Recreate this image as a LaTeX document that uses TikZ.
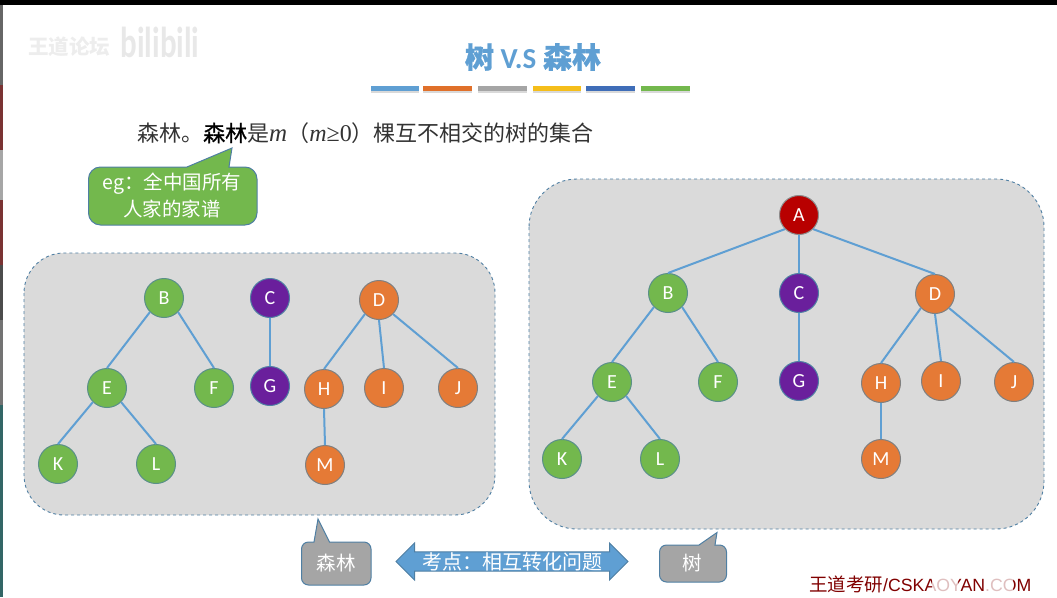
\documentclass[tikz,border=0pt]{standalone}
\usepackage{fontspec}
\setmainfont{Carlito}
\newfontfamily\cjk{Noto Sans CJK SC}
\newfontfamily\cjkheavy[FakeBold=1]{Noto Sans CJK SC}
\newfontfamily\timesfont{Liberation Serif}
\newfontfamily\footfont{Liberation Sans}
\usetikzlibrary{positioning, shapes.arrows, shadows}
\definecolor{linkblue}{HTML}{5F9FD3}
\definecolor{rimblue}{HTML}{4F7FA3}
\definecolor{panelgray}{HTML}{DADADA}
\definecolor{treegreen}{HTML}{73B84D}
\definecolor{treepurple}{HTML}{6A1F9C}
\definecolor{treeorange}{HTML}{E57A36}
\definecolor{treered}{HTML}{B80000}
\definecolor{tagsgray}{HTML}{A5A5A5}
\definecolor{barorange}{HTML}{E0702A}
\definecolor{baryellow}{HTML}{F5BE1A}
\definecolor{barblue}{HTML}{3F6DB8}

\begin{document}
\begin{tikzpicture}[
  x=1pt, y=-1pt,
  treenode/.style={circle, line width=1pt, minimum size=39pt, inner sep=0pt,
                   text=white, font=\fontsize{20}{22}\selectfont},
  greennode/.style={treenode, draw=rimblue!70!treegreen, fill=treegreen},
  purplenode/.style={treenode, draw=rimblue, fill=treepurple},
  orangenode/.style={treenode, draw=black!50, fill=treeorange},
  rednode/.style={treenode, draw=black!45, fill=treered},
  link/.style={draw=linkblue, line width=2pt},
  panel/.style={draw=rimblue, dashed, line width=0.9pt, fill=panelgray},
  bar/.style={minimum height=5.5pt, inner sep=0pt, anchor=north west,
              drop shadow={shadow xshift=0pt, shadow yshift=-1.5pt, opacity=0.3}},
  tagshape/.style={draw=rimblue, line width=1pt},
  tagtext/.style={text=white, align=center, inner sep=0pt, font=\cjk\fontsize{19.5}{27}\selectfont},
]
\useasboundingbox (0,0) rectangle (1057,597);
\fill[black] (0,0) rectangle (1057,5);

% --- strip on the left edge ---
\fill[black!60] (0,5) rectangle (2.5,85);
\fill[red!35!black!80] (0,85) rectangle (2.5,150);
\fill[black!35] (0,150) rectangle (2.5,200);
\fill[red!35!black!80] (0,200) rectangle (2.5,265);
\fill[black!70] (0,265) rectangle (2.5,320);
\fill[black!55] (0,320) rectangle (2.5,405);
\fill[teal!50!black!80] (0,405) rectangle (2.5,597);

% --- faint watermark ---
\node[text=black!7, font=\cjk\bfseries\fontsize{20.5}{22}\selectfont] (wmark) at (69,47) {王道论坛};
\node[text=black!9, yscale=1.4, font=\bfseries\fontsize{31}{32}\selectfont] (wlogo) at (160,42) {bilibili};

% --- heading ---
\node[text=linkblue, font=\bfseries\fontsize{29}{32}\selectfont] (title) at (533,57)
  {{\cjkheavy 树} V.S {\cjkheavy 森林}};
\node[bar, fill=linkblue, minimum width=48pt]   (bar1) at (371,85.5) {};
\node[bar, fill=barorange, minimum width=49pt]  (bar2) at (423,85.5) {};
\node[bar, fill=tagsgray, minimum width=49pt]   (bar3) at (478,85.5) {};
\node[bar, fill=baryellow, minimum width=48pt]  (bar4) at (533,85.5) {};
\node[bar, fill=barblue, minimum width=49pt]    (bar5) at (586,85.5) {};
\node[bar, fill=treegreen, minimum width=49pt]  (bar6) at (641,85.5) {};

\node[anchor=west, inner sep=0pt, text=black!80, font=\cjk\fontsize{22}{26}\selectfont] (define) at (137,133)
  {森林。{\color{black}\cjkheavy 森林}是{\timesfont\fontsize{25}{26}\selectfont\itshape m}（{\timesfont\fontsize{24}{26}\selectfont\itshape m}{\timesfont\fontsize{24}{26}\selectfont≥0}）棵互不相交的树的集合};

% --- panels ---
\path[panel, rounded corners=40pt] (24,253) rectangle (495,515);
\path[panel, rounded corners=48pt] (529,179) rectangle (1044,529);

% --- forest ---
\node[greennode]  (fB) at (164,298) {B};
\node[greennode]  (fE) at (107,388) {E};
\node[greennode]  (fF) at (214,388) {F};
\node[greennode]  (fK) at (58,464)  {K};
\node[greennode]  (fL) at (156,464) {L};
\node[purplenode] (fC) at (270,298) {C};
\node[purplenode] (fG) at (270,386) {G};
\node[orangenode] (fD) at (379,300) {D};
\node[orangenode] (fH) at (324,389) {H};
\node[orangenode] (fI) at (384,388) {I};
\node[orangenode] (fJ) at (458,388) {J};
\node[orangenode] (fM) at (325,465) {M};
\draw[link] (fB.south west) -- (fE.north);
\draw[link] (fB.south east) -- (fF.north);
\draw[link] (fE.south west) -- (fK.north);
\draw[link] (fE.south east) -- (fL.north);
\draw[link] (fC.south) -- (fG.north);
\draw[link] (fD.south west) -- (fH.north);
\draw[link] (fD.south) -- (fI.north);
\draw[link] (fD.south east) -- (fJ.north);
\draw[link] (fH.south) -- (fM.north);

% --- tree ---
\node[rednode]    (tA) at (799,215) {A};
\node[greennode]  (tB) at (668,293) {B};
\node[purplenode] (tC) at (799,293) {C};
\node[orangenode] (tD) at (935,294) {D};
\node[greennode]  (tE) at (612,382) {E};
\node[greennode]  (tF) at (718,382) {F};
\node[purplenode] (tG) at (799,381) {G};
\node[orangenode] (tH) at (881,383) {H};
\node[orangenode] (tI) at (941,381) {I};
\node[orangenode] (tJ) at (1014,382) {J};
\node[greennode]  (tK) at (562,459) {K};
\node[greennode]  (tL) at (660,459) {L};
\node[orangenode] (tM) at (881,459) {M};
\draw[link] (tA.south west) -- (tB.north);
\draw[link] (tA.south) -- (tC.north);
\draw[link] (tA.south east) -- (tD.north);
\draw[link] (tB.south west) -- (tE.north);
\draw[link] (tB.south east) -- (tF.north);
\draw[link] (tC.south) -- (tG.north);
\draw[link] (tD.south west) -- (tH.north);
\draw[link] (tD.south) -- (tI.north);
\draw[link] (tD.south east) -- (tJ.north);
\draw[link] (tE.south west) -- (tK.north);
\draw[link] (tE.south east) -- (tL.north);
\draw[link] (tH.south) -- (tM.north);

% --- callouts ---
\draw[tagshape, fill=treegreen] (187,167) -- (232,148) -- (229,167)
  [rounded corners=12pt] -- (257,167) -- (257,225) -- (88.5,225) -- (88.5,167) [sharp corners] -- cycle;
\node[tagtext] (eg) at (172,195) {eg：全中国所有\\人家的家谱};
\draw[tagshape, fill=tagsgray] (314,542) -- (318,519) -- (329.5,542)
  [rounded corners=7pt] -- (371,542) -- (371,585) -- (301.5,585) -- (301.5,542) [sharp corners] -- cycle;
\node[tagtext] (forest) at (336,563) {森林};
\draw[tagshape, fill=tagsgray] (699,545) -- (717,532.5) -- (715,545)
  [rounded corners=7pt] -- (726.5,545) -- (726.5,582) -- (659.5,582) -- (659.5,545) [sharp corners] -- cycle;
\node[tagtext] (tree) at (692,563) {树};

% --- double arrow ---
\node[double arrow, draw=rimblue, line width=1pt, fill=linkblue, text=white, inner sep=0pt,
      minimum height=232pt, minimum width=37pt, double arrow head extend=8.75pt,
      double arrow tip angle=90, font=\cjk\fontsize{20}{22}\selectfont] (swap) at (512,561.5) {考点：相互转化问题};

% --- footer mark ---
\node[anchor=west, inner sep=0pt, text=red!50!black, font=\footfont\fontsize{17.7}{22}\selectfont] (site) at (809,584)
  {{\cjk\fontsize{18.5}{22}\selectfont 王道考研}/CSKAOYAN.COM};
\fill[white, opacity=0.75, rounded corners=8pt] (932,563) rectangle (958,600);
\fill[white, opacity=0.75, rounded corners=8pt] (985,563) rectangle (1013,600);
\end{tikzpicture}
\end{document}
